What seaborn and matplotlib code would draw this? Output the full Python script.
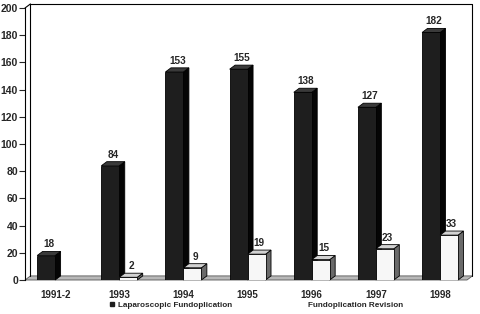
import pandas as pd
import matplotlib.pyplot as plt
import seaborn as sns
import numpy as np
from matplotlib.patches import Polygon

# data
years = ['1991-2', '1993', '1994', '1995', '1996', '1997', '1998']
laparoscopic = [18, 84, 153, 155, 138, 127, 182]
revision = [np.nan, 2, 9, 19, 15, 23, 33]
series = ['Laparoscopic Fundoplication', 'Fundoplication Revision']

df = pd.DataFrame({'year': years * 2,
                   'count': laparoscopic + revision,
                   'series': [series[0]] * len(years) + [series[1]] * len(years)})

sns.set_style('white')
plt.rcParams['font.family'] = ['Liberation Sans', 'DejaVu Sans']
plt.rcParams['font.weight'] = 'bold'

fig = plt.figure(figsize=(4.8, 3.14), dpi=100)
ax = fig.add_axes([25 / 480, 34 / 314, 442 / 480, 272 / 314])

sns.barplot(data=df, x='year', y='count', hue='series', palette=['#1e1e1e', '#f7f7f7'],
            width=0.56, dodge=True, legend=False, ax=ax, edgecolor='black', linewidth=0.6)

x0, x1 = -0.47, 6.42
ax.set_xlim(x0, x1)
ax.set_ylim(0, 200)
dx, dy = 0.085, 3.0

# back wall and floor
ax.add_patch(Polygon([(x0, 0), (x1, 0), (x1 + dx, dy), (x0 + dx, dy)], closed=True,
                     facecolor='#b8b8b8', edgecolor='#555555', lw=0.6, zorder=1, clip_on=False))
ax.plot([x0 + dx, x0 + dx, x1 + dx, x1 + dx], [dy, 200 + dy, 200 + dy, dy],
        color='black', lw=0.8, zorder=1, clip_on=False)
ax.plot([x0, x0 + dx], [200, 200 + dy], color='black', lw=0.8, zorder=1, clip_on=False)

# 3d faces for every bar
side_col = {'dark': '#050505', 'light': '#6a6a6a'}
top_col = {'dark': '#3a3a3a', 'light': '#d2d2d2'}
bars = [p for c in ax.containers for p in c]
bars = sorted(bars, key=lambda p: p.get_x())
z = 3
for p in bars:
    h = p.get_height()
    if not np.isfinite(h) or h <= 0:
        p.set_visible(False)
        continue
    x, w = p.get_x(), p.get_width()
    kind = 'dark' if p.get_facecolor()[0] < 0.5 else 'light'
    ax.add_patch(Polygon([(x + w, 0), (x + w + dx, dy), (x + w + dx, h + dy), (x + w, h)],
                         closed=True, facecolor=side_col[kind], edgecolor='black', lw=0.6,
                         zorder=z, clip_on=False))
    ax.add_patch(Polygon([(x, h), (x + w, h), (x + w + dx, h + dy), (x + dx, h + dy)],
                         closed=True, facecolor=top_col[kind], edgecolor='black', lw=0.6,
                         zorder=z, clip_on=False))
    p.set_zorder(z + 0.5)
    ax.text(x + (w + dx) / 2, h + dy + 1.5, f'{h:.0f}', ha='center', va='bottom',
            fontsize=7.2, fontweight='bold', zorder=20)
    z += 1

for s in ['top', 'right', 'bottom']:
    ax.spines[s].set_visible(False)
ax.spines['left'].set_color('black')
ax.spines['left'].set_linewidth(0.8)
ax.set_yticks(range(0, 201, 20))
ax.tick_params(axis='y', left=True, length=4, width=0.8, labelsize=7.5, pad=1)
ax.tick_params(axis='x', bottom=False, length=0, labelsize=7, pad=7)
for lab in ax.get_xticklabels() + ax.get_yticklabels():
    lab.set_fontweight('bold')
ax.set_xlabel('')
ax.set_ylabel('')

handles = [plt.Line2D([], [], marker='s', ls='', color='#1e1e1e', markersize=3),
           plt.Line2D([], [], marker='s', ls='', color='white', markersize=3)]
fig.legend(handles, series, loc='center', bbox_to_anchor=(0.534, 0.028), ncol=2,
           frameon=False, handlelength=0.7, handletextpad=0.4, columnspacing=8.2,
           prop={'weight': 'bold', 'size': 5.9})

plt.savefig('out.png', dpi=100)
plt.close()
